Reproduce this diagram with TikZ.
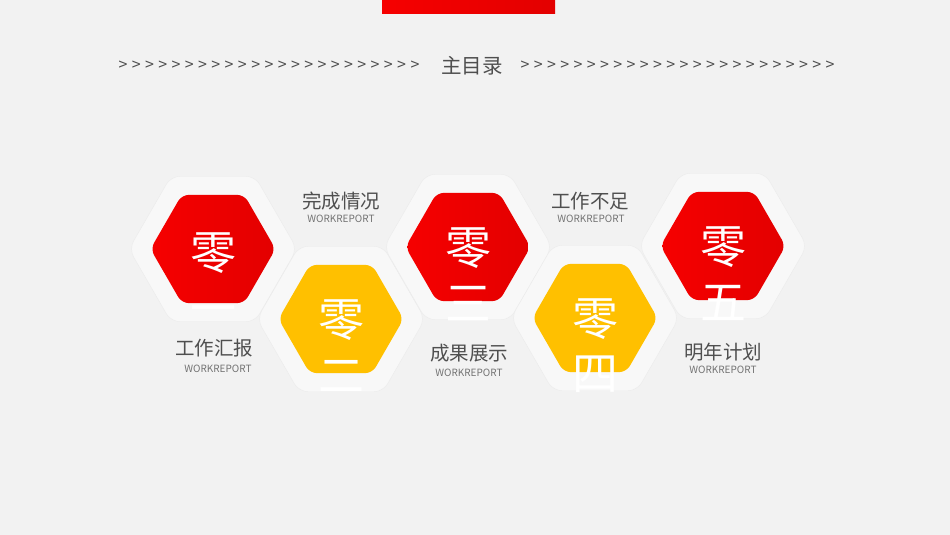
\documentclass[tikz,border=0pt]{standalone}
\usepackage{fontspec}
\setmainfont{Noto Sans CJK SC}
\usetikzlibrary{shapes.geometric, positioning}
\definecolor{bgc}{HTML}{F2F2F2}
\definecolor{hexwhite}{HTML}{F8F8F8}
\definecolor{hexedge}{HTML}{EBEBEB}
\definecolor{redlight}{HTML}{F60000}
\definecolor{reddark}{HTML}{E30000}
\definecolor{yellowhex}{HTML}{FFC000}
\definecolor{titlegray}{HTML}{4F4F4F}
\definecolor{subgray}{HTML}{737373}

\begin{document}
\begin{tikzpicture}[x = 1pt, y = -1pt]
\tikzstyle{OuterHex}=[
shape = regular polygon,
regular polygon sides = 6,
minimum size = 168pt,
inner sep = 0pt,
rounded corners = 9pt,
fill = hexwhite,
draw = hexedge]
\tikzstyle{RedHex}=[
shape = regular polygon,
regular polygon sides = 6,
minimum size = 125pt,
inner sep = 0pt,
rounded corners = 7pt,
left color = redlight,
right color = reddark]
\tikzstyle{YellowHex}=[
shape = regular polygon,
regular polygon sides = 6,
minimum size = 125pt,
inner sep = 0pt,
rounded corners = 7pt,
fill = yellowhex]
\tikzstyle{NumText}=[text = white, inner sep = 0pt, text height = 40pt, text depth = 6pt, font = \fontsize{46}{46}\selectfont]
\tikzstyle{Caption}=[text = titlegray, inner sep = 0pt, font = \fontsize{19.5}{21}\selectfont]
\tikzstyle{SubCaption}=[text = subgray, inner sep = 0pt, font = \fontsize{10}{11}\selectfont]
\tikzstyle{Chev}=[text = titlegray, inner sep = 0pt, font = \fontsize{16}{16}\selectfont]
\fill[bgc] (0,0) rectangle (950,535);
\useasboundingbox (0,0) rectangle (950,535);
\shade[left color = redlight, right color = reddark] (382,0) rectangle (555,14);
\foreach \i in {0,...,22} \node[Chev] (cl\i) at (123 + 13.27*\i, 66) {>};
\node[Caption, font = \fontsize{20.5}{22}\selectfont] (title) at (472, 66) {主目录};
\foreach \i in {0,...,23} \node[Chev] (cr\i) at (525 + 13.26*\i, 66) {>};
\node[OuterHex] (o1) at (213, 249) {};
\node[RedHex] (h1) at (213, 249) {};
\node[NumText, yshift = -3pt] (z1) at (h1) {零};
\node[NumText, below = 10pt of z1] (d1) {一};
\node[OuterHex] (o2) at (341, 319) {};
\node[YellowHex] (h2) at (341, 319) {};
\node[NumText] (z2) at (h2) {零};
\node[NumText, below = 10pt of z2] (d2) {二};
\node[OuterHex] (o3) at (468, 247) {};
\node[RedHex] (h3) at (468, 247) {};
\node[NumText] (z3) at (h3) {零};
\node[NumText, below = 10pt of z3] (d3) {三};
\node[OuterHex] (o4) at (595, 318) {};
\node[YellowHex] (h4) at (595, 318) {};
\node[NumText] (z4) at (h4) {零};
\node[NumText, below = 9pt of z4] (d4) {四};
\node[OuterHex] (o5) at (723, 246) {};
\node[RedHex] (h5) at (723, 246) {};
\node[NumText] (z5) at (h5) {零};
\node[NumText, below = 10pt of z5] (d5) {五};
\node[Caption] (c1) at (214, 348) {工作汇报};
\node[SubCaption] (s1) at (218, 369) {WORKREPORT};
\node[Caption] (c2) at (341, 201) {完成情况};
\node[SubCaption] (s2) at (341, 219) {WORKREPORT};
\node[Caption] (c3) at (469, 353) {成果展示};
\node[SubCaption] (s3) at (469, 373) {WORKREPORT};
\node[Caption] (c4) at (590, 201) {工作不足};
\node[SubCaption] (s4) at (591, 219) {WORKREPORT};
\node[Caption] (c5) at (723, 352) {明年计划};
\node[SubCaption] (s5) at (723, 370) {WORKREPORT};
\end{tikzpicture}
\end{document}
